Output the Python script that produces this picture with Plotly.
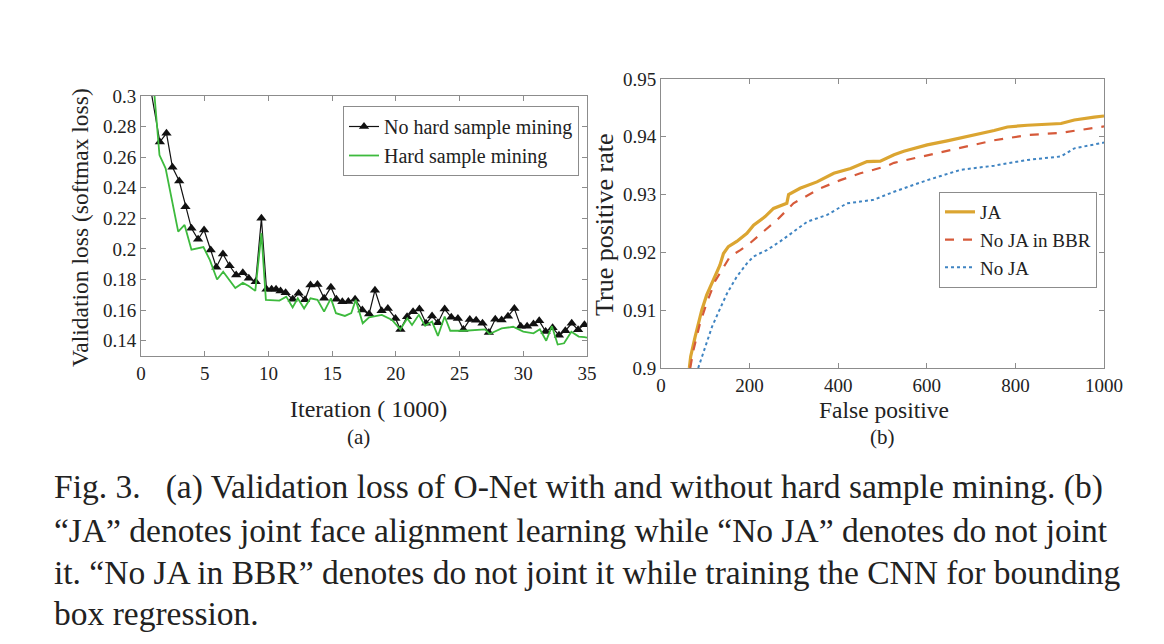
import plotly.graph_objects as go

# ---------- (a) validation loss ----------
no_hsm_x = [0.5, 1.48, 2.0, 2.47, 3.0, 3.49, 3.96, 4.48, 4.95, 5.47, 5.91, 6.43, 6.95, 7.47, 7.99, 8.46,
            9.0, 9.45, 9.85, 10.25, 10.6, 10.95, 11.35, 11.9, 12.37, 12.87, 13.3, 13.85, 14.37, 14.9,
            15.33, 15.8, 16.27, 16.8, 17.37, 17.9, 18.36, 18.88, 19.37, 19.97, 20.36, 20.88, 21.35,
            21.85, 22.37, 22.84, 23.3, 23.83, 24.35, 24.87, 25.3, 25.8, 26.3, 26.8, 27.3, 27.8, 28.3,
            28.8, 29.3, 29.8, 30.3, 30.8, 31.25, 31.75, 32.3, 32.8, 33.3, 33.8, 34.3, 34.8]
no_hsm_y = [0.317, 0.270, 0.2756, 0.2534, 0.2444, 0.2276, 0.2135, 0.2063, 0.2124, 0.1993, 0.188, 0.1967,
            0.189, 0.1829, 0.1844, 0.1808, 0.1786, 0.220, 0.1736, 0.1736, 0.1736, 0.1725, 0.1714, 0.1671,
            0.171, 0.1667, 0.1764, 0.1768, 0.1677, 0.1749, 0.1671, 0.1655, 0.1657, 0.1671, 0.160, 0.1574,
            0.173, 0.1596, 0.1611, 0.1546, 0.1474, 0.1557, 0.159, 0.1607, 0.1514, 0.1561, 0.1518, 0.1607,
            0.1553, 0.1546, 0.1474, 0.1538, 0.1534, 0.1514, 0.1454, 0.154, 0.1535, 0.156, 0.161, 0.1494,
            0.1494, 0.151, 0.153, 0.146, 0.1485, 0.1435, 0.1465, 0.1514, 0.1472, 0.1505]

hsm_x = [0.9, 1.35, 1.45, 1.93, 2.92, 3.42, 3.96, 4.9, 5.4, 5.97, 6.45, 7.4, 7.99, 8.45, 8.97, 9.45, 9.8,
         10.86, 11.4, 11.9, 12.3, 12.8, 13.3, 13.85, 14.37, 14.9, 15.3, 16.0, 16.5, 16.85, 17.4, 17.9,
         18.9, 19.7, 20.35, 20.9, 21.27, 21.8, 22.3, 22.84, 23.3, 23.83, 24.27, 25.4, 27.0, 27.35, 28.3,
         29.2, 30.0, 30.8, 31.3, 31.8, 32.25, 32.7, 33.2, 33.77, 34.35, 34.8, 35.0]
hsm_y = [0.316, 0.268, 0.2614, 0.2527, 0.2113, 0.2157, 0.1995, 0.2012, 0.1928, 0.180, 0.1851, 0.1745,
         0.1778, 0.1758, 0.1726, 0.2103, 0.1667, 0.1662, 0.1688, 0.1618, 0.1677, 0.1611, 0.1677, 0.1667,
         0.159, 0.1677, 0.158, 0.1562, 0.158, 0.1667, 0.1514, 0.1553, 0.1569, 0.1536, 0.1474, 0.1546,
         0.1503, 0.1569, 0.1497, 0.1525, 0.1431, 0.1558, 0.1465, 0.1465, 0.1474, 0.1444, 0.148, 0.1491,
         0.1459, 0.1448, 0.1475, 0.1400, 0.1495, 0.1375, 0.1383, 0.1459, 0.1427, 0.1423, 0.142]

a_xticks = [0, 5, 10, 15, 20, 25, 30, 35]
a_yticks = [0.14, 0.16, 0.18, 0.2, 0.22, 0.24, 0.26, 0.28, 0.3]
a_yticklabels = ["0.14", "0.16", "0.18", "0.2", "0.22", "0.24", "0.26", "0.28", "0.3"]

# ---------- (b) ROC ----------
ja_fp = [64, 67, 77, 92, 103, 118, 133, 141, 152, 171, 194, 209, 235, 254, 284, 288, 314, 352, 390, 428,
         465, 495, 526, 548, 601, 646, 707, 752, 782, 827, 903, 933, 978, 1000]
ja_tpr = [0.900, 0.902, 0.9054, 0.910, 0.9126, 0.9152, 0.9178, 0.9198, 0.921, 0.9219, 0.9233, 0.9247,
          0.9262, 0.9276, 0.9285, 0.930, 0.9311, 0.9322, 0.9337, 0.9345, 0.9357, 0.9358, 0.9369, 0.9375,
          0.9386, 0.9393, 0.9403, 0.9411, 0.9417, 0.942, 0.9423, 0.9429, 0.9434, 0.9436]

nojabbr_fp = [66, 73, 88, 103, 122, 141, 156, 179, 201, 231, 262, 299, 360, 405, 450, 480, 511, 526, 601,
              677, 752, 827, 903, 948, 1000]
nojabbr_tpr = [0.900, 0.903, 0.9077, 0.9112, 0.915, 0.9175, 0.9193, 0.9204, 0.9216, 0.9236, 0.9256,
               0.9285, 0.9311, 0.9325, 0.9337, 0.9343, 0.935, 0.9355, 0.9368, 0.938, 0.9394, 0.9403,
               0.9407, 0.9412, 0.9418]

noja_fp = [84, 100, 115, 130, 149, 171, 194, 209, 239, 269, 299, 330, 375, 420, 451, 480, 526, 601, 677,
           752, 827, 903, 933, 1000]
noja_tpr = [0.900, 0.9037, 0.9071, 0.9097, 0.9129, 0.9158, 0.9181, 0.9193, 0.9204, 0.9219, 0.9236,
            0.9253, 0.9265, 0.9285, 0.9288, 0.9291, 0.9305, 0.9325, 0.9343, 0.935, 0.936, 0.9366,
            0.938, 0.939]

b_xticks = [0, 200, 400, 600, 800, 1000]
b_yticks = [0.9, 0.91, 0.92, 0.93, 0.94, 0.95]
b_yticklabels = ["0.9", "0.91", "0.92", "0.93", "0.94", "0.95"]

caption_lines = [
    "Fig. 3.\u00a0\u00a0\u00a0(a) Validation loss of O-Net with and without hard sample mining. (b)",
    "\u201cJA\u201d denotes joint face alignment learning while \u201cNo JA\u201d denotes do not joint",
    "it. \u201cNo JA in BBR\u201d denotes do not joint it while training the CNN for bounding",
    "box regression.",
]

W, H = 1164, 644
SERIF = "Liberation Serif, Times New Roman, serif"
TXT = "#222222"
AX = "#8c8c8c"

fig = go.Figure()
fig.add_trace(go.Scatter(x=no_hsm_x, y=no_hsm_y, mode="lines+markers", name="No hard sample mining",
                         line=dict(color="#111111", width=1.2),
                         marker=dict(symbol="triangle-up", size=9, color="#111111"),
                         xaxis="x", yaxis="y", legend="legend"))
fig.add_trace(go.Scatter(x=hsm_x, y=hsm_y, mode="lines", name="Hard sample mining",
                         line=dict(color="#3dba3d", width=1.8),
                         xaxis="x", yaxis="y", legend="legend"))
fig.add_trace(go.Scatter(x=ja_fp, y=ja_tpr, mode="lines", name="JA",
                         line=dict(color="#dba531", width=3.2),
                         xaxis="x2", yaxis="y2", legend="legend2"))
fig.add_trace(go.Scatter(x=nojabbr_fp, y=nojabbr_tpr, mode="lines", name="No JA in BBR",
                         line=dict(color="#d65a3a", width=2.2, dash="dash"),
                         xaxis="x2", yaxis="y2", legend="legend2"))
fig.add_trace(go.Scatter(x=noja_fp, y=noja_tpr, mode="lines", name="No JA",
                         line=dict(color="#3f84c2", width=2, dash="dot"),
                         xaxis="x2", yaxis="y2", legend="legend2"))

def px_x(p):
    return p / W

def px_y(p):
    return 1 - p / H

axis_common = dict(showline=True, linecolor=AX, linewidth=1, mirror="ticks", ticks="inside",
                   ticklen=5, tickcolor=AX, showgrid=False, zeroline=False, automargin=False,
                   tickfont=dict(family=SERIF, size=19, color=TXT))

fig.update_layout(
    width=W, height=H, autosize=False,
    margin=dict(l=0, r=0, t=0, b=0, pad=0, autoexpand=False),
    paper_bgcolor="white", plot_bgcolor="white",
    xaxis=dict(domain=[px_x(141), px_x(587)], range=[0, 35], tickvals=a_xticks, anchor="y", **axis_common),
    yaxis=dict(domain=[px_y(356), px_y(96)], range=[0.13, 0.3], tickvals=a_yticks,
               ticktext=a_yticklabels, anchor="x", **axis_common),
    xaxis2=dict(domain=[px_x(661), px_x(1104)], range=[0, 1000], tickvals=b_xticks, anchor="y2", **axis_common),
    yaxis2=dict(domain=[px_y(368), px_y(79)], range=[0.9, 0.95], tickvals=b_yticks,
                ticktext=b_yticklabels, anchor="x2", **axis_common),
    legend=dict(x=px_x(579), y=px_y(106), xanchor="right", yanchor="top",
                bordercolor=AX, borderwidth=1, bgcolor="white",
                font=dict(family=SERIF, size=20, color=TXT), tracegroupgap=0,
                itemwidth=30),
    legend2=dict(x=px_x(1097), y=px_y(192), xanchor="right", yanchor="top",
                 bordercolor=AX, borderwidth=1, bgcolor="white",
                 font=dict(family=SERIF, size=19, color=TXT), tracegroupgap=0,
                 itemwidth=30),
    showlegend=True,
)

ann = []
def add_text(text, x, y, size, xanchor="center", angle=0):
    ann.append(dict(text=text, x=px_x(x), y=px_y(y), xref="paper", yref="paper",
                    xanchor=xanchor, yanchor="middle", showarrow=False, textangle=angle,
                    font=dict(family=SERIF, size=size, color=TXT)))

add_text("Validation loss (softmax loss)", 80, 228, 23.5, angle=-90)
add_text("Iteration ( 1000)", 368, 409, 24)
add_text("(a)", 358, 437, 21)
add_text("True positive rate", 605, 225, 26, angle=-90)
add_text("False positive", 884, 410, 23.5)
add_text("(b)", 882, 437, 21)
for line, yy in zip(caption_lines, [487, 530, 572, 613]):
    add_text(line, 52, yy, 33.5, xanchor="left")

fig.update_layout(annotations=ann)
fig.write_html("out.html",
               config={"displayModeBar": False},
               post_script="document.documentElement.style.margin='0';document.body.style.margin='0';"
                           "document.body.style.overflow='hidden';")
